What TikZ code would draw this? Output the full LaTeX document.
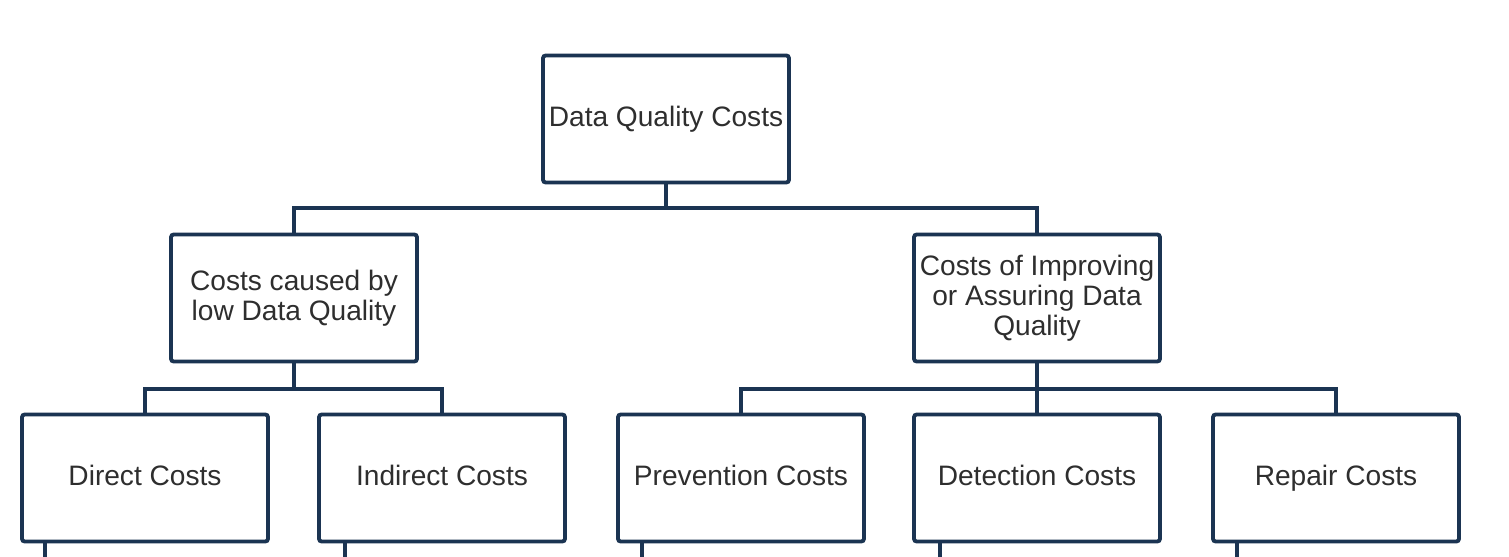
\documentclass[tikz,border=0pt]{standalone}
\usepackage{fontspec}
\setmainfont{Liberation Sans}
\usetikzlibrary{positioning}

\definecolor{boxline}{HTML}{1B3452}
\definecolor{boxtext}{HTML}{2E2E2E}

\tikzset{
  costbox/.style={draw=boxline, line width=2.2pt, rounded corners=1.5pt, fill=white,
    minimum width=4.92cm, minimum height=2.54cm, inner sep=0pt, align=center,
    text=boxtext, font=\fontsize{16}{17}\selectfont},
  oneline/.style={text height=11.5pt, text depth=3.5pt},
  link/.style={draw=boxline, line width=2.2pt}
}

\begin{document}
\begin{tikzpicture}[x=0.02cm, y=-0.02cm]
  \useasboundingbox (0,0) rectangle (1509,557);
  % top level
  \node[costbox, oneline] (dq) at (666,119) {Data Quality Costs};
  % second level
  \node[costbox] (low)  at (294,298) {Costs caused by\\low Data Quality};
  \node[costbox] (impr) at (1037,298) {Costs of Improving\\or Assuring Data\\Quality};
  % third level
  \node[costbox, oneline] (direct)   at (145,478) {Direct Costs};
  \node[costbox, oneline] (indirect) at (442,478) {Indirect Costs};
  \node[costbox, oneline] (prev)     at (741,478) {Prevention Costs};
  \node[costbox, oneline] (detect)   at (1037,478) {Detection Costs};
  \node[costbox, oneline] (repair)   at (1336,478) {Repair Costs};

  % buses
  \coordinate (bus1) at (666,208);
  \coordinate (bus2) at (294,389);
  \coordinate (bus3) at (1037,389);
  \draw[link] (dq.south) -- (bus1) -| (low.north);
  \draw[link] (bus1) -| (impr.north);
  \draw[link] (low.south) -- (bus2) -| (direct.north);
  \draw[link] (bus2) -| (indirect.north);
  \draw[link] (impr.south) -- (bus3) -| (prev.north);
  \draw[link] (bus3) -| (repair.north);
  \draw[link] (bus3) -- (detect.north);

  % stubs running off the bottom
  \foreach \n/\x in {direct/45, indirect/345, prev/642, detect/940, repair/1237} {
    \coordinate (\n-end) at (\x,557);
    \draw[link] (\n.south -| \n-end) -- (\n-end);
  }
\end{tikzpicture}
\end{document}
